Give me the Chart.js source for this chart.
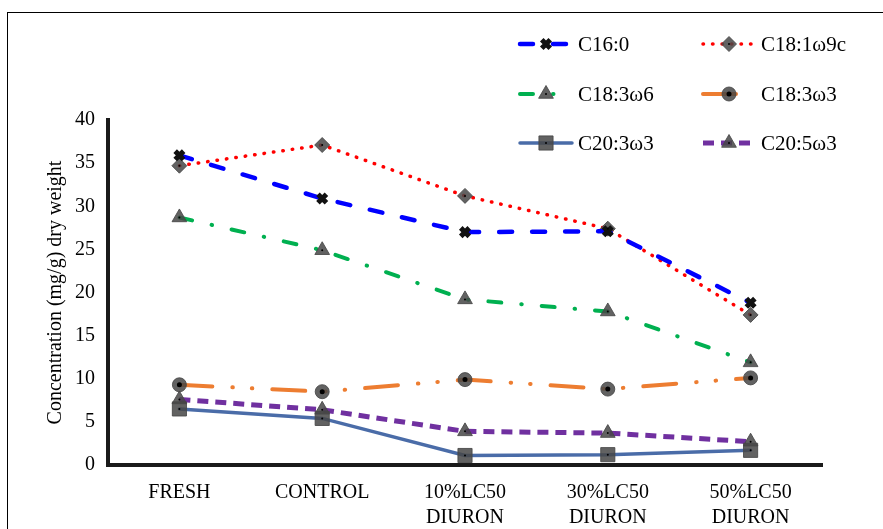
<!DOCTYPE html>
<html>
<head>
<meta charset="utf-8">
<script src="https://cdn.jsdelivr.net/npm/chart.js@4/dist/chart.umd.min.js"></script>
<style>
  body { margin: 0; background: #fff; }
  #wrap { position: relative; width: 883px; height: 529px; overflow: hidden; }
  #frame { position: absolute; left: 7px; top: 12px; width: 900px; height: 540px;
           border-left: 1.5px solid #000; border-top: 1.5px solid #000; }
  #chart { position: absolute; left: 0; top: 0; }
</style>
</head>
<body>
<div id="wrap">
  <div id="frame"></div>
  <canvas id="chart" width="883" height="529"></canvas>
</div>
<script>
// Categories and values
const categories = ['FRESH', 'CONTROL', ['10%LC50', 'DIURON'], ['30%LC50', 'DIURON'], ['50%LC50', 'DIURON']];
const c16_0 = [35.9, 30.9, 27.0, 27.1, 18.8];
const c18_1w9c = [34.7, 37.1, 31.2, 27.4, 17.4];
const c18_3w6 = [28.7, 24.9, 19.2, 17.8, 11.9];
const c18_3w3 = [9.3, 8.5, 9.9, 8.8, 10.1];
const c20_3w3 = [6.5, 5.4, 1.1, 1.2, 1.7];
const c20_5w3 = [7.6, 6.4, 3.9, 3.7, 2.7];
const yTicks = [0, 5, 10, 15, 20, 25, 30, 35, 40];

const SERIF = '"Liberation Serif", "Times New Roman", serif';
const GREY = 'rgba(70,70,70,0.85)';

const datasets = [
  { label: 'C16:0', data: c16_0, borderColor: '#0000FF', borderWidth: 4.5, borderDash: [13, 20],
    pointStyle: 'crossRot', pointRadius: 6, pointBorderColor: '#111', pointBorderWidth: 5, pointBackgroundColor: '#111', noDot: true },
  { label: 'C18:1\u03c99c', data: c18_1w9c, borderColor: '#FF0000', borderWidth: 3.5, borderDash: [0.5, 9],
    pointStyle: 'rectRot', pointRadius: 7.5 },
  { label: 'C18:3\u03c96', data: c18_3w6, borderColor: '#00B050', borderWidth: 4, borderDash: [13, 20, 0.5, 20],
    pointStyle: 'triangle', pointRadius: 8.5 },
  { label: 'C18:3\u03c93', data: c18_3w3, borderColor: '#ED7D31', borderWidth: 4, borderDash: [33, 20, 0.5, 19, 0.5, 20],
    pointStyle: 'circle', pointRadius: 7, bigDot: true },
  { label: 'C20:3\u03c93', data: c20_3w3, borderColor: '#4A6CA8', borderWidth: 3.5, borderDash: [],
    pointStyle: 'rect', pointRadius: 10 },
  { label: 'C20:5\u03c93', data: c20_5w3, borderColor: '#7030A0', borderWidth: 5, borderDash: [11, 7], capButt: true,
    pointStyle: 'triangle', pointRadius: 8.5 }
];
datasets.forEach(d => {
  d.fill = false;
  d.tension = 0;
  d.borderCapStyle = d.capButt ? 'butt' : 'round';
  if (!d.pointBackgroundColor) {
    d.pointBackgroundColor = GREY;
    d.pointBorderColor = GREY;
    d.pointBorderWidth = 1;
  }
  d.pointHoverRadius = d.pointRadius;
});

// legend positions (two columns, three rows)
const legendCols = [520, 703];
const legendRows = [44, 94, 143];

function centreDot(ctx, ds, x, y) {
  if (ds.noDot) return;
  ctx.fillStyle = '#000';
  ctx.beginPath();
  ctx.arc(x, y, ds.bigDot ? 2.5 : 1, 0, Math.PI * 2);
  ctx.fill();
}

const legendAndDots = {
  id: 'legendAndDots',
  afterDatasetsDraw(chart) {
    const ctx = chart.ctx;
    chart.data.datasets.forEach((ds, i) => {
      chart.getDatasetMeta(i).data.forEach(pt => {
        ctx.save();
        centreDot(ctx, ds, pt.x, pt.y);
        ctx.restore();
      });
    });
  },
  afterDraw(chart) {
    const ctx = chart.ctx;
    chart.data.datasets.forEach((ds, i) => {
      const x0 = legendCols[i % 2];
      const y = legendRows[Math.floor(i / 2)];
      ctx.save();
      ctx.strokeStyle = ds.borderColor;
      ctx.lineWidth = ds.borderWidth;
      ctx.lineCap = ds.borderCapStyle;
      ctx.setLineDash(ds.borderDash);
      ctx.beginPath();
      ctx.moveTo(x0, y);
      ctx.lineTo(x0 + 52, y);
      ctx.stroke();
      ctx.setLineDash([]);
      ctx.lineCap = 'butt';
      ctx.fillStyle = ds.pointBackgroundColor;
      ctx.strokeStyle = ds.pointBorderColor;
      ctx.lineWidth = ds.pointBorderWidth;
      Chart.helpers.drawPoint(ctx, {
        pointStyle: ds.pointStyle, radius: ds.pointRadius, borderWidth: ds.pointBorderWidth, rotation: 0
      }, x0 + 26, y);
      centreDot(ctx, ds, x0 + 26, y);
      ctx.fillStyle = '#000';
      ctx.font = '21px ' + SERIF;
      ctx.textBaseline = 'middle';
      ctx.textAlign = 'left';
      ctx.fillText(ds.label, x0 + 58, y + 1);
      ctx.restore();
    });
  }
};

new Chart(document.getElementById('chart').getContext('2d'), {
  type: 'line',
  data: { labels: categories, datasets: datasets },
  options: {
    responsive: false,
    animation: false,
    events: [],
    layout: { padding: { left: 44, right: 61, top: 120, bottom: 0 } },
    plugins: { legend: { display: false }, tooltip: { enabled: false } },
    scales: {
      x: {
        offset: true,
        grid: { display: true, drawOnChartArea: false, drawTicks: false },
        border: { display: true, color: '#1a1a1a', width: 4 },
        ticks: { color: '#000', padding: 15, maxRotation: 0, autoSkip: false,
                 font: { family: SERIF, size: 20, lineHeight: 1.25 } },
        afterFit: s => { s.height = 64; }
      },
      y: {
        min: 0, max: 40,
        afterBuildTicks: s => { s.ticks = yTicks.map(v => ({ value: v })); },
        grid: { display: true, drawOnChartArea: false, drawTicks: false },
        border: { display: true, color: '#1a1a1a', width: 4 },
        ticks: { color: '#000', padding: 13, font: { family: SERIF, size: 20 } },
        title: { display: true, text: 'Concentration (mg/g) dry weight', color: '#000',
                 font: { family: SERIF, size: 20 }, padding: 0 },
        afterFit: s => { s.width = 64; }
      }
    }
  },
  plugins: [legendAndDots]
});
</script>
</body>
</html>
